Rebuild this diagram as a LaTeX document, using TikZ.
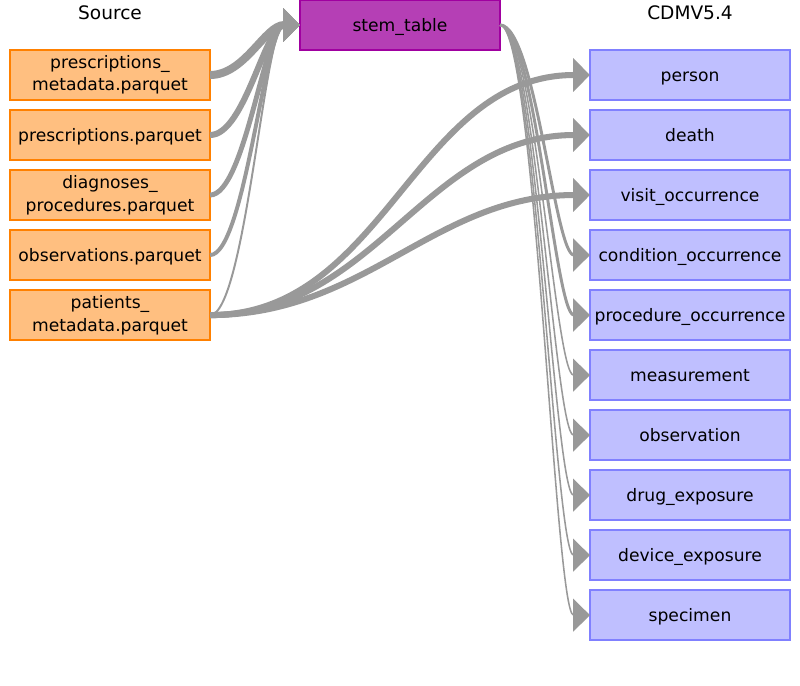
\documentclass[tikz,border=0pt]{standalone}
\usepackage{fontspec}
\setmainfont{DejaVu Sans}
\usetikzlibrary{arrows.meta, positioning}
\definecolor{srcfill}{RGB}{255,191,128}
\definecolor{srcline}{RGB}{255,128,0}
\definecolor{stemfill}{RGB}{181,63,181}
\definecolor{stemline}{RGB}{160,0,160}
\definecolor{cdmfill}{RGB}{191,191,255}
\definecolor{cdmline}{RGB}{128,128,255}
\definecolor{flowc}{RGB}{153,153,153}
\tikzset{
  tbl/.style={rectangle, line width=1pt, minimum width=5cm, minimum height=1.25cm,
              inner sep=0pt, outer sep=0pt, align=center, text height=9pt, text depth=0pt,
              font=\fontsize{12.2}{16}\selectfont},
  % nós de duas linhas: altura natural
  twoline/.style={text height=, text depth=},
  % tabelas de origem (parquet)
  src/.style={tbl, draw=srcline, fill=srcfill},
  stemtbl/.style={tbl, draw=stemline, fill=stemfill},
  % tabelas do CDM
  cdm/.style={tbl, draw=cdmline, fill=cdmfill},
  hdr/.style={font=\fontsize{13.2}{16}\selectfont},
  flow/.style={draw=flowc, -{Triangle[length=4.2mm, width=8.2mm]}},
  fcurve/.style={to path={.. controls +(35,0) and +(-35,0) .. (\tikztotarget)}}
}

\begin{document}
\begin{tikzpicture}[x=0.025cm, y=-0.025cm]
    \useasboundingbox (0,0) rectangle (800,685);

    % cabeçalhos
    \node[hdr] (srchdr) at (110,13) {Source};
    \node[hdr] (cdmhdr) at (690,13) {CDMV5.4};

    % origem
    \node[src, twoline] (pmeta) at (110,75) {prescriptions\_\\metadata.parquet};
    \node[src, below=0.25cm of pmeta] (presc) {prescriptions.parquet};
    \node[src, twoline, below=0.25cm of presc] (diag) {diagnoses\_\\procedures.parquet};
    \node[src, below=0.25cm of diag] (obs) {observations.parquet};
    \node[src, twoline, below=0.25cm of obs] (patmeta) {patients\_\\metadata.parquet};

    % tabela intermediária
    \node[stemtbl] (stem) at (400,25) {stem\_table};

    % destino
    \node[cdm] (person) at (690,75) {person};
    \node[cdm, below=0.25cm of person] (death) {death};
    \node[cdm, below=0.25cm of death] (visit) {visit\_occurrence};
    \node[cdm, below=0.25cm of visit] (cond) {condition\_occurrence};
    \node[cdm, below=0.25cm of cond] (proc) {procedure\_occurrence};
    \node[cdm, below=0.25cm of proc] (meas) {measurement};
    \node[cdm, below=0.25cm of meas] (obsv) {observation};
    \node[cdm, below=0.25cm of obsv] (drug) {drug\_exposure};
    \node[cdm, below=0.25cm of drug] (device) {device\_exposure};
    \node[cdm, below=0.25cm of device] (spec) {specimen};

    % origem -> stem_table
    \draw[flow, line width=5.7pt] (pmeta.east) to[fcurve] (stem.west);
    \draw[flow, line width=4.3pt] (presc.east) to[fcurve] (stem.west);
    \draw[flow, line width=3.5pt] (diag.east) to[fcurve] (stem.west);
    \draw[flow, line width=2.8pt] (obs.east) to[fcurve] (stem.west);
    \draw[flow, line width=1.4pt] (patmeta.east) to[fcurve] (stem.west);

    % patients_metadata -> CDM direto
    \draw[flow, line width=4.3pt] (patmeta.east) to[out=0, in=180] (person.west);
    \draw[flow, line width=4.3pt] (patmeta.east) to[out=0, in=180] (death.west);
    \draw[flow, line width=4.3pt] (patmeta.east) to[out=0, in=180] (visit.west);

    % stem_table -> CDM
    \draw[flow, line width=2.1pt] (stem.east) to[fcurve] (cond.west);
    \draw[flow, line width=2.1pt] (stem.east) to[fcurve] (proc.west);
    \draw[flow, line width=1.1pt] (stem.east) to[fcurve] (meas.west);
    \draw[flow, line width=1.1pt] (stem.east) to[fcurve] (obsv.west);
    \draw[flow, line width=1.1pt] (stem.east) to[fcurve] (drug.west);
    \draw[flow, line width=1.1pt] (stem.east) to[fcurve] (device.west);
    \draw[flow, line width=1.1pt] (stem.east) to[fcurve] (spec.west);
\end{tikzpicture}
\end{document}
